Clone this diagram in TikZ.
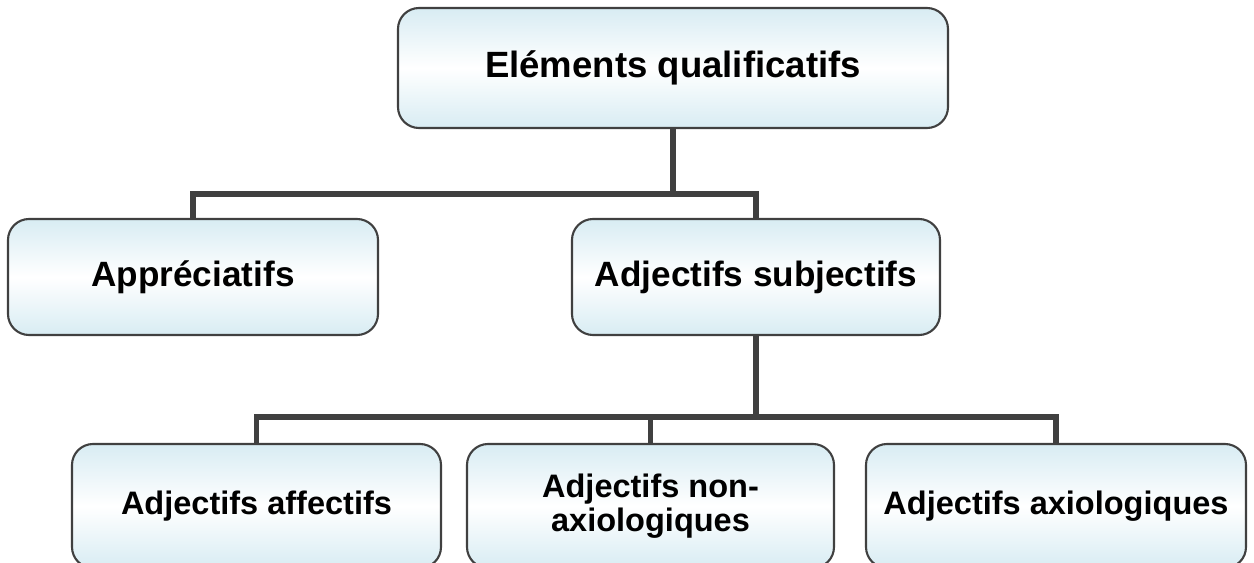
\documentclass[tikz,border=0pt]{standalone}
\usepackage{fontspec}
\setmainfont{Liberation Sans}
\usepackage{tikz}
\usetikzlibrary{shapes,arrows}
\definecolor{boxblue}{RGB}{216,236,243}
\definecolor{edgegray}{RGB}{64,64,64}
\tikzstyle{block} = [rectangle, draw=edgegray, line width=1.2pt,
    top color=boxblue, bottom color=boxblue, middle color=white,
    rounded corners=0.42cm, align=center, inner sep=0pt,
    font=\fontsize{20}{22}\selectfont\bfseries]
\tikzstyle{blockl} = [block, minimum width=7.38cm, minimum height=2.48cm,
    font=\fontsize{18.5}{19.5}\selectfont\bfseries]
\tikzstyle{line} = [draw=edgegray, line width=3pt]

\begin{document}
\begin{tikzpicture}
    \clip (0,0) rectangle (25.08,-11.26);
    % Place nodes
    \node [block, minimum width=11cm, minimum height=2.4cm,
      font=\fontsize{20.8}{22}\selectfont\bfseries] (elem) at (13.46,-1.36)
      {Eléments qualificatifs};
    \node [block, minimum width=7.4cm, minimum height=2.32cm] (apprec)
      at (3.86,-5.54) {Appréciatifs};
    \node [block, minimum width=7.36cm, minimum height=2.32cm] (subj)
      at (15.12,-5.54) {Adjectifs subjectifs};
    \node [blockl] (affect) at (5.13,-10.12) {Adjectifs affectifs};
    \node [blockl, minimum width=7.34cm] (nonaxio) at (13.01,-10.12)
      {Adjectifs non-\\axiologiques};
    \node [blockl, minimum width=7.6cm] (axio) at (21.12,-10.12)
      {Adjectifs axiologiques};
    \coordinate (j1) at ([yshift=-1.3cm]elem.south);
    \coordinate (j2) at ([yshift=-1.62cm]subj.south);

    % Draw edges
    \path [line] (elem.south) -- (j1);
    \path [line] (j1) -| (apprec.north);
    \path [line] (j1) -| (subj.north);
    \path [line] (subj.south) -- (j2);
    \path [line] (j2) -| (affect.north);
    \path [line] (j2) -| (nonaxio.north);
    \path [line] (j2) -| (axio.north);

\end{tikzpicture}
\end{document}
